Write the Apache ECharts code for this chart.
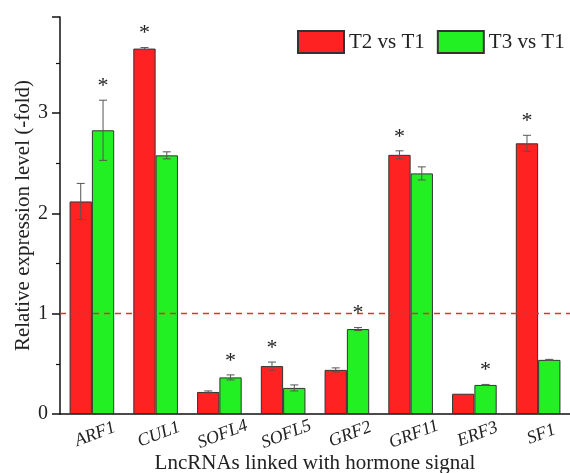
<!DOCTYPE html>
<html>
<head>
<meta charset="utf-8">
<script src="https://cdn.jsdelivr.net/npm/echarts@6/dist/echarts.min.js"></script>
<style>html,body{margin:0;padding:0;background:#fff}#c{width:570px;height:473px}</style>
</head>
<body>
<div id="c"></div>
<script>
var categories = ['ARF1', 'CUL1', 'SOFL4', 'SOFL5', 'GRF2', 'GRF11', 'ERF3', 'SF1'];
var t2Values = [2.12, 3.645, 0.22, 0.478, 0.44, 2.585, 0.202, 2.70];
var t2Errors = [0.18, 0.01, 0.01, 0.04, 0.02, 0.04, 0, 0.08];
var t2Signif = [0, 1, 0, 1, 0, 1, 0, 1];
var t3Values = [2.83, 2.58, 0.365, 0.26, 0.847, 2.40, 0.29, 0.54];
var t3Errors = [0.30, 0.035, 0.025, 0.03, 0.015, 0.065, 0.005, 0.005];
var t3Signif = [1, 0, 1, 0, 1, 0, 1, 0];
var yTicks = [0, 1, 2, 3];
var seriesNames = ['T2 vs T1', 'T3 vs T1'];
var refLevel = 1;

var FONT = "'Liberation Serif', 'Times New Roman', serif";
var RED = '#ff2222';
var GREEN = '#22f022';

function errData(vals, errs, sig) {
  return vals.map(function (v, i) { return [i, v, errs[i], sig[i]]; });
}

function makeRender(side) {
  return function (params, api) {
    var i = api.value(0), v = api.value(1), e = api.value(2), s = api.value(3);
    var band = api.size([1, 0])[0];
    var off = side * band * 0.35 / 2;
    var c = api.coord([i, v]);
    var x = c[0] + off;
    var top = api.coord([i, v + e])[1];
    var bot = api.coord([i, v - e])[1];
    var children = [];
    var st = { stroke: '#555', lineWidth: 1 };
    if (e > 0) {
      children.push({ type: 'line', shape: { x1: x, y1: top, x2: x, y2: bot }, style: st });
      children.push({ type: 'line', shape: { x1: x - 4, y1: top, x2: x + 4, y2: top }, style: st });
      children.push({ type: 'line', shape: { x1: x - 4, y1: bot, x2: x + 4, y2: bot }, style: st });
    }
    if (s) {
      children.push({ type: 'text', style: { x: x, y: top - 3, text: '*', textAlign: 'center', textVerticalAlign: 'bottom', font: '22px ' + FONT, fill: '#222' } });
    }
    return { type: 'group', children: children };
  };
}

var chart = echarts.init(document.getElementById('c'));
chart.setOption({
  animation: false,
  backgroundColor: '#fff',
  grid: { left: 60, right: 0, top: 17, bottom: 59, containLabel: false, outerBoundsMode: 'none' },
  legend: {
    data: seriesNames,
    left: 297, top: 30, width: 280, padding: 0,
    orient: 'horizontal',
    itemWidth: 46, itemHeight: 22, itemGap: 12,
    textStyle: { fontFamily: FONT, fontSize: 21, color: '#222' },
    icon: 'rect'
  },
  xAxis: {
    type: 'category',
    data: categories,
    name: 'LncRNAs linked with hormone signal',
    nameLocation: 'middle',
    nameGap: 39,
    nameMoveOverlap: false,
    nameTextStyle: { fontFamily: FONT, fontSize: 21, color: '#222' },
    axisLine: { lineStyle: { color: '#111', width: 1.5 } },
    axisTick: { alignWithLabel: true, length: 7, lineStyle: { color: '#111', width: 1.5 } },
    axisLabel: { interval: 0, rotate: 21, align: 'center', verticalAlign: 'top', margin: 12, fontFamily: FONT, fontStyle: 'italic', fontSize: 18, color: '#222' }
  },
  yAxis: {
    type: 'value',
    min: 0, max: 3.96, interval: 1,
    name: 'Relative expression level (-fold)',
    nameLocation: 'middle',
    nameGap: 26,
    nameMoveOverlap: false,
    nameTextStyle: { fontFamily: FONT, fontSize: 21, color: '#222' },
    axisLine: { show: true, lineStyle: { color: '#111', width: 1.5 } },
    axisTick: { show: true, length: 8, lineStyle: { color: '#111', width: 1.5 } },
    minorTick: { show: true, splitNumber: 2, length: 4, lineStyle: { color: '#111', width: 1.2 } },
    splitLine: { show: false },
    axisLabel: {
      margin: 12, fontFamily: FONT, fontSize: 20, color: '#222',
      formatter: function (v) { return yTicks.indexOf(v) >= 0 ? String(v) : ''; }
    }
  },
  series: [
    {
      name: seriesNames[0], type: 'bar', data: t2Values, barWidth: '35%', barGap: '0%',
      itemStyle: { color: RED, borderColor: '#333', borderWidth: 1 },
      markLine: {
        silent: true, symbol: ['none', 'none'], label: { show: false },
        lineStyle: { color: '#e03030', type: [6, 5], width: 1.3, opacity: 1 },
        emphasis: { disabled: true },
        data: [{ yAxis: refLevel, lineStyle: { color: '#e03030' } }]
      }
    },
    {
      name: seriesNames[1], type: 'bar', data: t3Values, barWidth: '35%', barGap: '0%',
      itemStyle: { color: GREEN, borderColor: '#333', borderWidth: 1 }
    },
    { type: 'custom', renderItem: makeRender(-1), data: errData(t2Values, t2Errors, t2Signif), z: 5, silent: true },
    { type: 'custom', renderItem: makeRender(1), data: errData(t3Values, t3Errors, t3Signif), z: 5, silent: true }
  ]
});
</script>
</body>
</html>
